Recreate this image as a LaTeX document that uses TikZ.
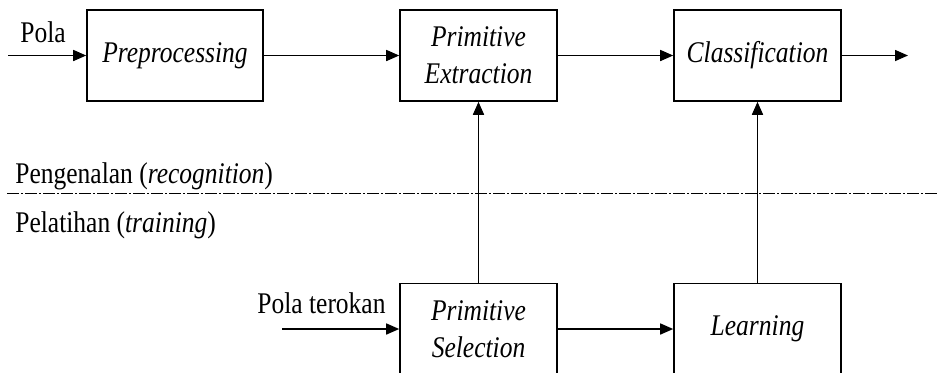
\documentclass[tikz,border=0pt]{standalone}
\usepackage{fontspec}
\setmainfont{Liberation Serif}[FakeStretch=0.85]
\usetikzlibrary{arrows.meta}

\begin{document}
\begin{tikzpicture}[x=0.5pt,y=-0.5pt]
        \useasboundingbox (0,0) rectangle (939,372);
        \begin{scope}[every node/.style={draw=black,line width=0.8pt,minimum height=45.5pt,align=center,font=\fontsize{15}{18.5}\selectfont\itshape}]
            \node[minimum width=88pt] (1) at (175,55.5) {Preprocessing};
            \node[minimum width=78.5pt] (2) at (478.5,55.5) {Primitive\\Extraction};
            \node[minimum width=83.5pt] (3) at (757.5,55.5) {Classification};

            \node[minimum width=78.5pt] (4) at (478.5,329) {Primitive\\Selection};
            \node[minimum width=83.5pt] (5) at (757.5,329) {Learning};
        \end{scope}
        \begin{scope}[every node/.style={inner sep=0pt,anchor=base west,font=\fontsize{15}{18.5}\selectfont}]
            \node (6) at (20,42) {Pola};
            \node (7) at (257,313) {Pola terokan};
            \node (8) at (15,183) {Pengenalan (\textit{recognition})};
            \node (9) at (15,232) {Pelatihan (\textit{training})};
        \end{scope}
        \coordinate (in) at (8,55.5);
        \coordinate (out) at (908,55.5);
        \coordinate (smp) at (282,329);
        \coordinate (d1) at (7,193);
        \coordinate (d2) at (939,193);
        \begin{scope}[every edge/.style={draw,line width=0.8pt,-{Triangle[length=6.5pt,width=5.5pt]}}]
            \path (in) edge (1);
            \path (1) edge (2);
            \path (2) edge (3);
            \path (3) edge (out);

            \path (smp) edge (4);
            \path (4) edge (5);
            \path (4) edge (2);
            \path (5) edge (3);
        \end{scope}
        \draw[line width=0.5pt,dash pattern=on 6pt off 1pt on 1pt off 1pt] (d1) -- (d2);
    \end{tikzpicture}
\end{document}
